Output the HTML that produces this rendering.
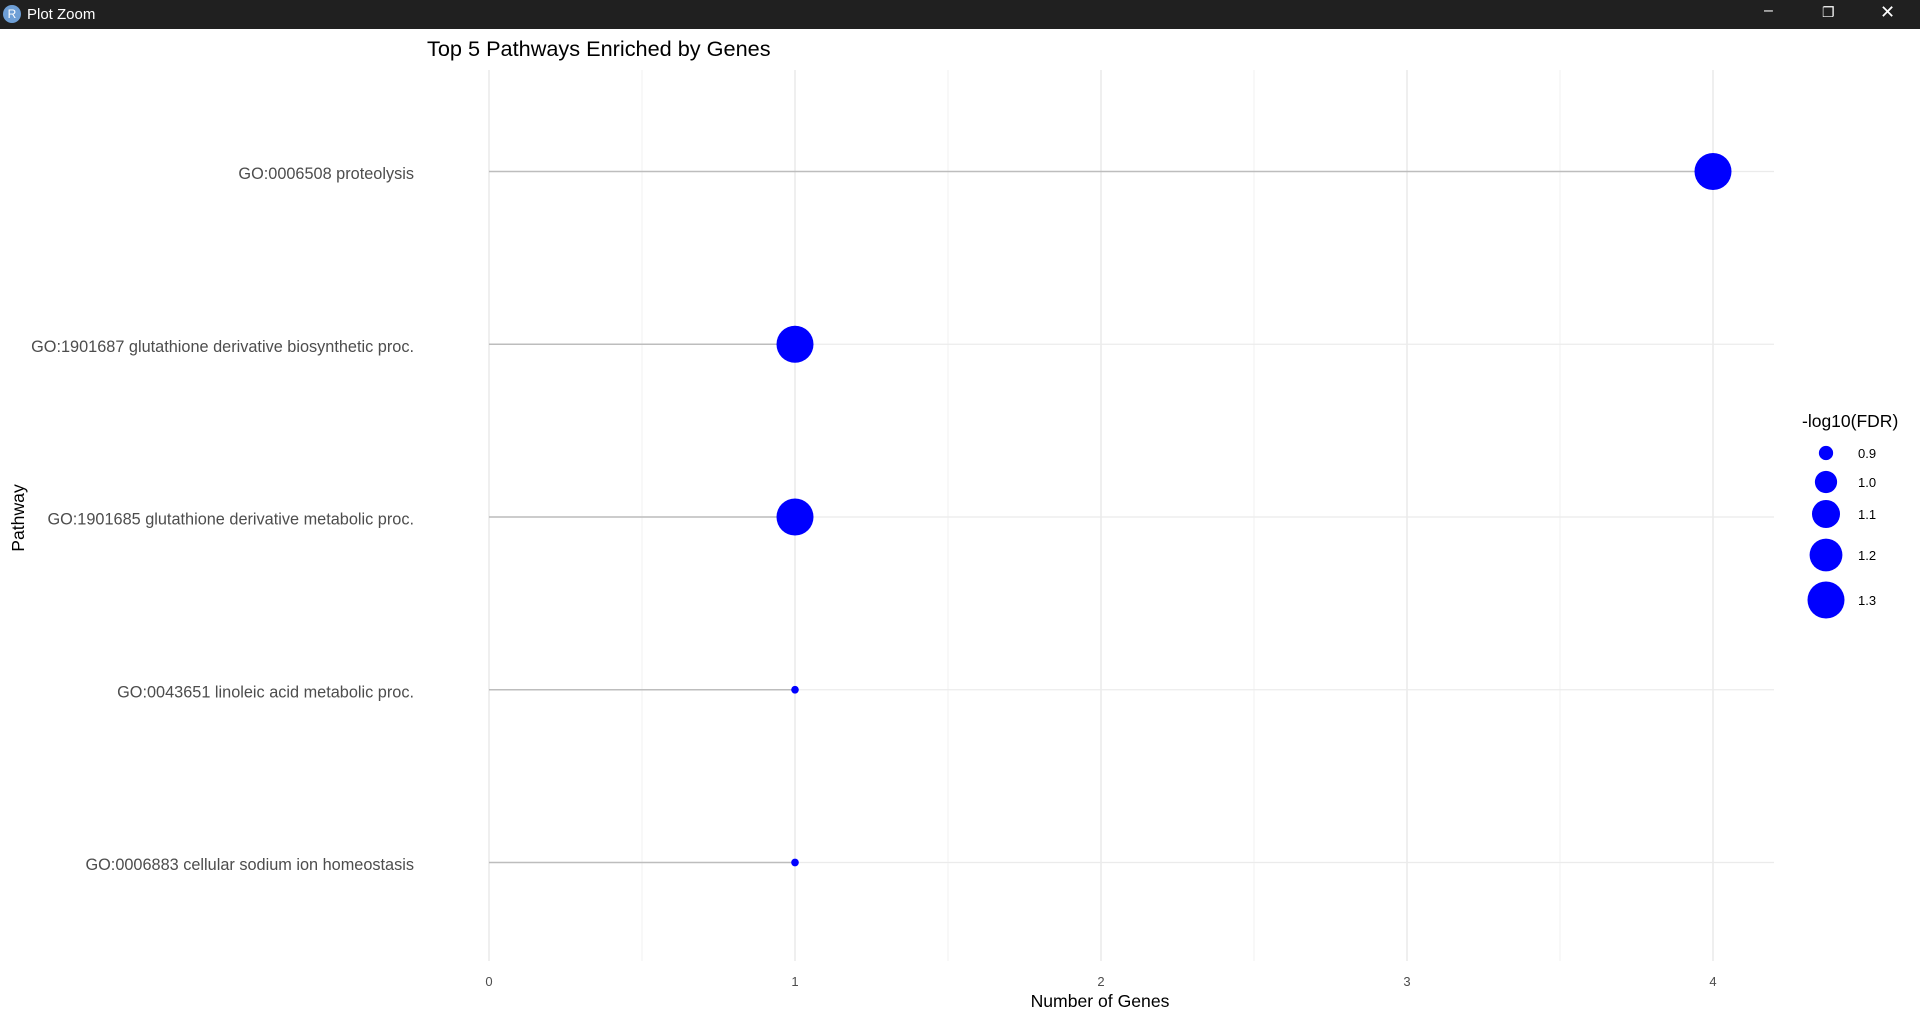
<!DOCTYPE html>
<html><head><meta charset="utf-8"><style>
body{margin:0;width:1920px;height:1020px;overflow:hidden;background:#fff;font-family:"Liberation Sans",sans-serif}
#bar{position:absolute;left:0;top:0;width:1920px;height:29px;background:#202020;color:#fff;font-size:15px}
</style></head><body>
<div id="bar">
<div style="position:absolute;left:3px;top:5px;width:18px;height:18px;border-radius:50%;background:#6e9fd6;color:#fff;font-size:12px;text-align:center;line-height:18px">R</div>
<span style="position:absolute;left:27px;top:6px">Plot Zoom</span>
<span style="position:absolute;left:1764px;top:2px;font-size:16px">&#8211;</span>
<span style="position:absolute;left:1822px;top:4px;font-size:14px">&#10064;</span>
<span style="position:absolute;left:1880px;top:2px;font-size:18px">&#10005;</span>
</div>
<svg id="chart" width="1920" height="1020" style="position:absolute;left:0;top:0"></svg>
<script>
const categories=["GO:0006508 proteolysis","GO:1901687 glutathione derivative biosynthetic proc.","GO:1901685 glutathione derivative metabolic proc.","GO:0043651 linoleic acid metabolic proc.","GO:0006883 cellular sodium ion homeostasis"];
const geneCounts=[4,1,1,1,1];
const fdrValues=[1.3,1.3,1.3,0.85,0.85];
const xTicks=[0,1,2,3,4];
const legendValues=[0.9,1.0,1.1,1.2,1.3];
const legendLabels=["0.9","1.0","1.1","1.2","1.3"];

const NS="http://www.w3.org/2000/svg";
const svg=document.getElementById('chart');
function mk(t,a,p){const e=document.createElementNS(NS,t);for(const k in a)e.setAttribute(k,a[k]);(p||svg).appendChild(e);return e;}
const x=v=>489+v*306;
const y=i=>171.5+i*172.75;
const vmin=0.852,vmax=1.3,rmin=4,rmax=18.5;
const r=v=>Math.sqrt(rmin*rmin+(v-vmin)/(vmax-vmin)*(rmax*rmax-rmin*rmin));
const plotTop=70,plotBot=961,plotLeft=489,plotRight=1774;
for(let v=0.5;v<4.2;v+=1){const l=mk('line',{x1:x(v),x2:x(v),y1:plotTop,y2:plotBot,stroke:'#f2f2f2','stroke-width':1});

}
xTicks.forEach(v=>{const l=mk('line',{x1:x(v),x2:x(v),y1:plotTop,y2:plotBot,stroke:'#e6e6e6','stroke-width':1.3});


const t=mk('text',{x:x(v),y:986,'text-anchor':'middle','font-size':13,fill:'#4d4d4d'});t.textContent=v;

});
categories.forEach((c,i)=>{const l=mk('line',{x1:plotLeft,x2:plotRight,y1:y(i),y2:y(i),stroke:'#ebebeb','stroke-width':1.3});


const t=mk('text',{x:414,y:y(i)+7.5,'text-anchor':'end','font-size':16.3,fill:'#4d4d4d'});t.textContent=c;

});
categories.forEach((c,i)=>{const s=mk('line',{x1:x(0),x2:x(geneCounts[i]),y1:y(i),y2:y(i),stroke:'#bdbdbd','stroke-width':1.5});


const p=mk('circle',{cx:x(geneCounts[i]),cy:y(i),r:r(fdrValues[i]),fill:'#0000ff'});

});
let t=mk('text',{x:427,y:56,'font-size':21.7,fill:'#000'});t.textContent='Top 5 Pathways Enriched by Genes';


t=mk('text',{x:1100,y:1007,'text-anchor':'middle','font-size':17.6,fill:'#000'});t.textContent='Number of Genes';


t=mk('text',{x:0,y:0,'text-anchor':'middle','font-size':17.6,fill:'#000',transform:'translate(24,518) rotate(-90)'});t.textContent='Pathway';


t=mk('text',{x:1802,y:427,'font-size':17.5,fill:'#000'});t.textContent='-log10(FDR)';


const ly=[453,482,514,555,600];
legendValues.forEach((v,i)=>{const c=mk('circle',{cx:1826,cy:ly[i],r:r(v),fill:'#0000ff'});


const tt=mk('text',{x:1858,y:ly[i]+5,'font-size':13,fill:'#000'});tt.textContent=legendLabels[i];

});
</script>
</body></html>
